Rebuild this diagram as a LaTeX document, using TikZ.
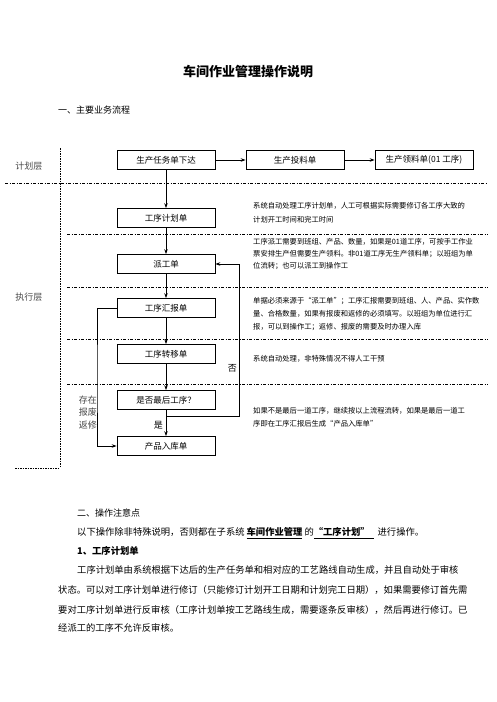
\documentclass[tikz,border=0pt]{standalone}
\usepackage{fontspec}
\setmainfont{Noto Sans CJK SC}
\XeTeXlinebreaklocale "zh"
\XeTeXlinebreakskip=0pt plus 2pt
\usepackage{tikz}
\usetikzlibrary{arrows.meta,positioning,calc}
\definecolor{LayerGray}{RGB}{70,70,70}
\newcommand{\noteline}[1]{\makebox[220pt][s]{#1}}
\newcommand{\bodyline}[2]{\makebox[#1][s]{#2}}
\tikzset{
  flowbox/.style={draw,line width=0.7pt,fill=white,minimum width=98pt,minimum height=19pt,
    inner sep=0pt,font={\fontsize{8.5}{10}\selectfont}},
  flow/.style={-{Stealth[length=5pt,width=3.5pt]},line width=0.8pt},
  divider/.style={line width=0.6pt,dash pattern=on 3pt off 1.5pt on 1pt off 1.5pt},
  layerline/.style={line width=0.6pt,dash pattern=on 1.5pt off 1pt},
  note/.style={anchor=north west,inner sep=0pt,align=left,font={\fontsize{7.3}{13}\selectfont}},
  body/.style={anchor=west,inner sep=0pt,font={\fontsize{9.3}{12}\selectfont}},
  side/.style={inner sep=0pt,text=LayerGray,font={\fontsize{9}{12}\selectfont}}
}

\begin{document}
\begin{tikzpicture}[x=1pt,y=-1pt]
  \useasboundingbox (0,0) rectangle (496,702);

  % heading
  \node[font={\fontsize{13}{15}\selectfont\bfseries}] (title) at (248,72) {车间作业管理操作说明};
  \node[body,font={\fontsize{9}{11}\selectfont}] (secone) at (58,110) {一、主要业务流程};

  % layers
  \draw[layerline] (60,148) -- (60,468);
  \draw[layerline] (15,468) -- (60,468);
  \draw[divider] (5,183) -- (488,183);
  \foreach \y in {234,287,339,384}
    \draw[divider] (67,\y) -- (488,\y);
  \node[side] (planlayer) at (29,166) {计划层};
  \node[side] (execlayer) at (29,297) {执行层};

  % boxes
  \node[flowbox] (task) at (166,160) {生产任务单下达};
  \node[flowbox] (feed) at (295,160) {生产投料单};
  \node[flowbox] (pick) at (424,160) {生产领料单(01 工序)};
  \node[flowbox] (plan) at (166,218) {工序计划单};
  \node[flowbox] (dispatch) at (166,264) {派工单};
  \node[flowbox] (report) at (166,308) {工序汇报单};
  \node[flowbox] (transfer) at (166,354) {工序转移单};
  \node[flowbox] (lastq) at (166,400) {是否最后工序？};
  \node[flowbox] (stockin) at (166,446) {产品入库单};

  % connectors
  \draw[flow] (task) -- (feed);
  \draw[flow] (feed) -- (pick);
  \draw[flow] (task) -- (plan);
  \draw[flow] (plan) -- (dispatch);
  \draw[flow] (dispatch) -- (report);
  \draw[flow] (report) -- (transfer);
  \draw[flow] (transfer) -- (lastq);
  \draw[flow] (lastq) -- (stockin);
  \coordinate (nofork) at (166,416);
  \coordinate (noturn) at (239,416);
  \draw[flow] (nofork) -- (noturn) |- (dispatch.east);
  \coordinate (scrapcol) at (97,380);
  \draw[flow] (report.west) -| (scrapcol) |- (stockin.west);

  \node[side,text=black,anchor=east] (yes) at (163,425) {是};
  \node[side,text=black,anchor=east] (no) at (237,368) {否};
  \node[side,anchor=east] (scrapa) at (97,400) {存在};
  \node[side,anchor=east] (scrapb) at (97,412) {报废};
  \node[side,anchor=east] (scrapc) at (97,425) {返修};

  % notes
  \node[note,font={\fontsize{7.3}{14}\selectfont}] (noteplan) at (253,202) {\noteline{系统自动处理工序计划单，人工可根据实际需要修订各工序大致的}\\计划开工时间和完工时间};
  \node[note,font={\fontsize{7.3}{12}\selectfont}] (notedispatch) at (253,238) {\noteline{工序派工需要到班组、产品、数量，如果是01道工序，可按手工作业}\\\noteline{票安排生产但需要生产领料。非01道工序无生产领料单；以班组为单}\\位流转；也可以派工到操作工};
  \node[note] (notereport) at (253,297) {\noteline{单据必须来源于“派工单”；工序汇报需要到班组、人、产品、实作数}\\\noteline{量、合格数量，如果有报废和返修的必须填写。以班组为单位进行汇}\\报，可以到操作工；返修、报废的需要及时办理入库};
  \node[note] (notetransfer) at (253,355) {系统自动处理，非特殊情况不得人工干预};
  \node[note] (notelast) at (253,407) {\noteline{如果不是最后一道工序，继续按以上流程流转，如果是最后一道工}\\序即在工序汇报后生成“产品入库单”};

  % operation notes
  \node[body,font={\fontsize{9}{11}\selectfont}] (sectwo) at (77,513) {二、操作注意点};
  \node[body] (scope) at (77,533) {以下操作除非特殊说明，否则都在子系统 \underline{\textbf{车间作业管理}} 的\underline{\textbf{“工序计划”}\hspace{4pt}}\hspace{4pt}进行操作。};
  \node[body,font={\fontsize{9.3}{12}\selectfont\bfseries}] (itemone) at (77,551) {1、工序计划单};
  \node[body] (parla) at (77,570) {\bodyline{398pt}{工序计划单由系统根据下达后的生产任务单和相对应的工艺路线自动生成，并且自动处于审核}};
  \node[body] (parlb) at (58,590) {\bodyline{420pt}{状态。可以对工序计划单进行修订（只能修订计划开工日期和计划完工日期），如果需要修订首先需}};
  \node[body] (parlc) at (58,610) {\bodyline{420pt}{要对工序计划单进行反审核（工序计划单按工艺路线生成，需要逐条反审核），然后再进行修订。已}};
  \node[body] (parld) at (58,628) {经派工的工序不允许反审核。};
\end{tikzpicture}
\end{document}
